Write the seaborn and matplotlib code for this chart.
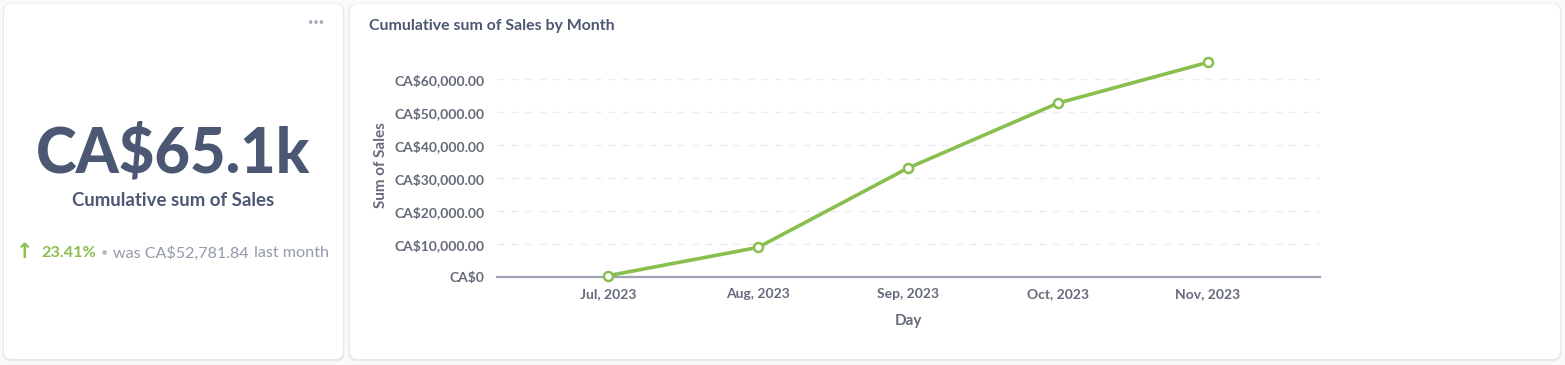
import matplotlib
matplotlib.use("Agg")
import matplotlib.pyplot as plt
from matplotlib.patches import FancyBboxPatch
from matplotlib.transforms import IdentityTransform
import seaborn as sns
import pandas as pd

# ---------------- data ----------------
months = ["Jul, 2023", "Aug, 2023", "Sep, 2023", "Oct, 2023", "Nov, 2023"]
cum_sales = [480, 9050, 33100, 52781.84, 65138]
y_ticks = [0, 10000, 20000, 30000, 40000, 50000, 60000]
kpi_value = "CA$65.1k"
kpi_label = "Cumulative sum of Sales"
kpi_change = "23.41%"
kpi_prev = "was CA$52,781.84"
chart_title = "Cumulative sum of Sales by Month"

# ---------------- style ----------------
sns.set_theme(style="white")
plt.rcParams["font.family"] = ["Lato", "DejaVu Sans"]

DARK = "#4c5773"
GRAY = "#949aab"
TICK = "#656a79"
GREEN = "#88bf4d"
AXIS = "#9ea3b3"
GRID = "#ececef"

W, H = 1565, 365
fig = plt.figure(figsize=(W / 100, H / 100), dpi=100)
fig.patch.set_facecolor("#f8f9fb")


def card(x0, y0, x1, y1):
    # y given from top in image pixels
    off = 1.2
    fig.add_artist(FancyBboxPatch((x0 - off + 8, H - y1 - off + 8 - 0.8),
                                  (x1 - x0) + 2 * off - 16, (y1 - y0) + 2 * off - 16,
                                  boxstyle="round,pad=8", transform=IdentityTransform(),
                                  facecolor="#e6e8ec", edgecolor="none", zorder=-3))
    fig.add_artist(FancyBboxPatch((x0 + 8, H - y1 + 8), (x1 - x0) - 16, (y1 - y0) - 16,
                                  boxstyle="round,pad=8", transform=IdentityTransform(),
                                  facecolor="white", edgecolor="none", zorder=-2))


card(4, 4, 343, 359)
card(350, 4, 1560, 359)

# ---------------- left KPI card ----------------
fig.text(316 / W, 1 - 22 / H, "•••", ha="center", va="center", fontsize=6.5, color="#a8adbb")
fig.text(173 / W, 1 - 153 / H, kpi_value, ha="center", va="center", fontsize=44.3,
         fontweight="black", color=DARK)
fig.text(173 / W, 1 - 200 / H, kpi_label, ha="center", va="center", fontsize=13.4,
         fontweight="bold", color=DARK)

yk = 1 - 253 / H
fig.text(24.5 / W, 1 - 251.5 / H, "↑", ha="center", va="center", fontsize=15, fontweight="bold",
         color=GREEN, family=["DejaVu Sans"])
fig.text(41 / W, yk, kpi_change, ha="left", va="center", fontsize=11.7, fontweight="bold", color=GREEN)
fig.text(104 / W, yk, "•", ha="center", va="center", fontsize=9, color="#b5bac6")
fig.text(113 / W, yk, kpi_prev, ha="left", va="center", fontsize=11.6, color=GRAY)
fig.text(254 / W, yk, "last month", ha="left", va="center", fontsize=11.7, color=GRAY)

# ---------------- right chart card ----------------
fig.text(369 / W, 1 - 26 / H, chart_title, ha="left", va="center", fontsize=11.4,
         fontweight="bold", color=DARK)

ax_left, ax_right = 497, 1320
ax_bottom, ax_top = 277.3, 46.3  # top chosen for y max 70000
ax = fig.add_axes([ax_left / W, 1 - ax_bottom / H, (ax_right - ax_left) / W,
                   (ax_bottom - ax_top) / H])
ax.set_facecolor("none")

df = pd.DataFrame({"idx": range(len(months)), "month": months, "sales": cum_sales})
sns.lineplot(data=df, x="idx", y="sales", ax=ax, color=GREEN, linewidth=2.6,
             marker="o", markersize=6.5, markerfacecolor="white",
             markeredgecolor=GREEN, markeredgewidth=1.8, clip_on=False, zorder=5)

ax.set_xlim(-0.74, 4.747)
ax.set_ylim(0, 70000)

ax.set_xticks(list(range(len(months))), labels=months, fontweight="bold",
              fontsize=10, color=TICK)
ax.set_xticks([-0.74, 4.747], minor=True)
ax.tick_params(axis="x", which="major", length=0, pad=8)
ax.tick_params(axis="x", which="minor", length=6, width=1.6, color=AXIS, direction="out")

ylabels = ["CA$0" if v == 0 else f"CA${v:,.2f}" for v in y_ticks]
ax.set_yticks(y_ticks, labels=ylabels, fontweight="bold", fontsize=10, color=TICK)
ax.tick_params(axis="y", length=0, pad=9)

for v in y_ticks[1:]:
    ax.axhline(v, color=GRID, linewidth=1, linestyle=(0, (5, 5)), zorder=1)

for s in ["top", "right", "left"]:
    ax.spines[s].set_visible(False)
ax.spines["bottom"].set_color(AXIS)
ax.spines["bottom"].set_linewidth(1.6)

ax.set_xlabel("Day", fontsize=11, fontweight="bold", color=TICK)
ax.xaxis.set_label_coords(0.5, (ax_bottom - 321) / (ax_bottom - ax_top))
ax.xaxis.label.set_va("center")
ax.set_ylabel("Sum of Sales", fontsize=11, fontweight="bold", color=TICK)
ax.yaxis.set_label_coords((381 - ax_left) / (ax_right - ax_left),
                          (ax_bottom - 165) / (ax_bottom - ax_top))
ax.yaxis.label.set_va("center")

fig.savefig("out.png", dpi=100, facecolor=fig.get_facecolor())
